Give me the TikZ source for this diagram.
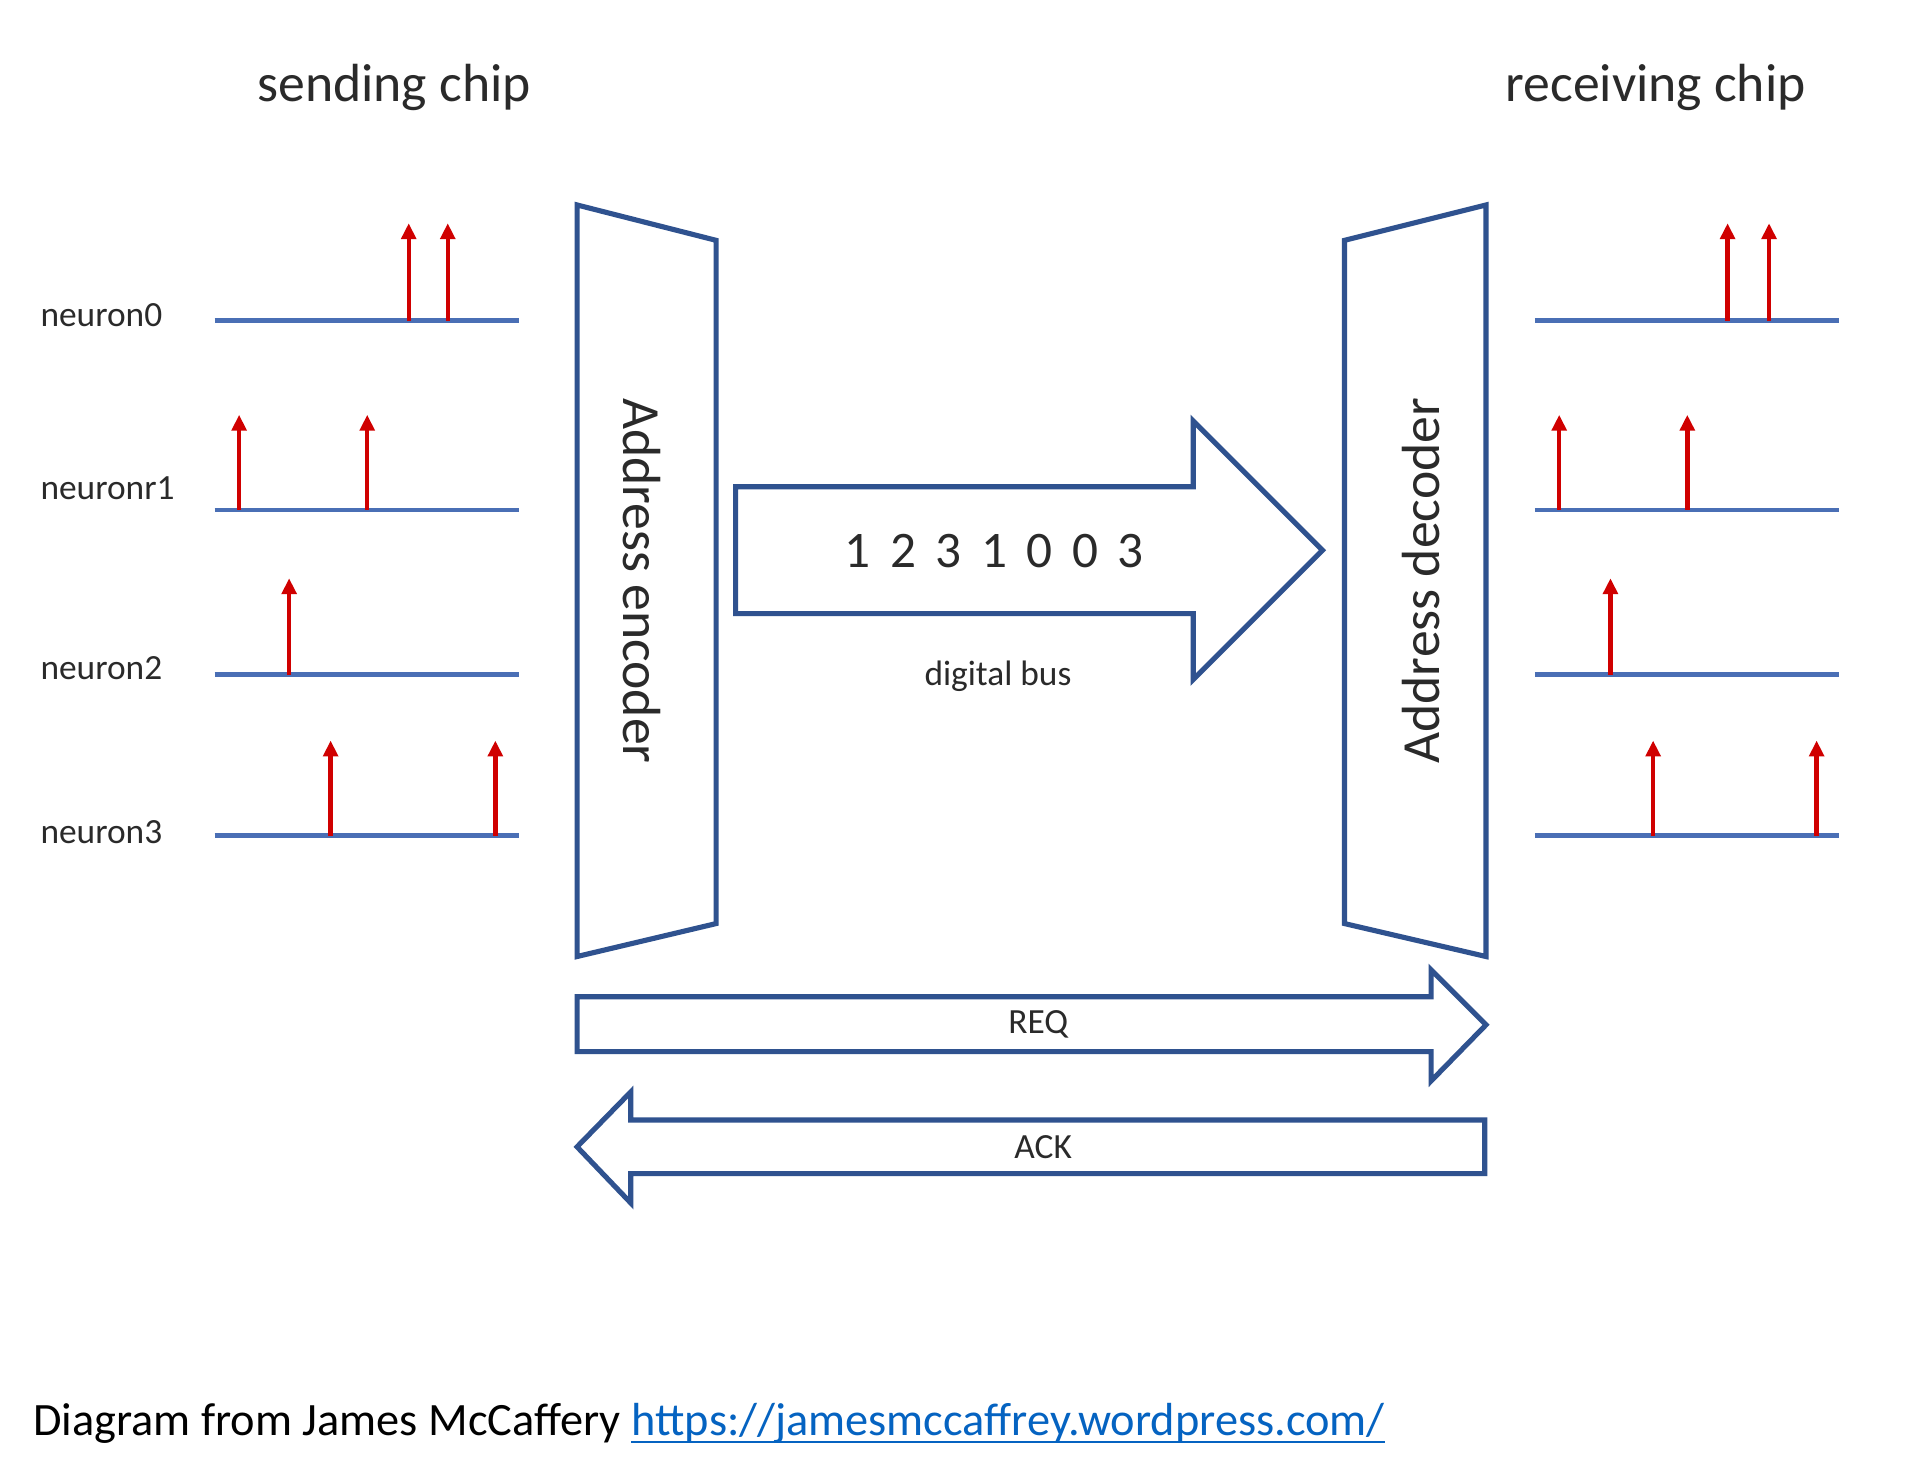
\documentclass[tikz,border=0pt]{standalone}
\usepackage{fontspec}
\setmainfont{Carlito}
\usetikzlibrary{arrows.meta}
\definecolor{outl}{HTML}{2F528F}
\definecolor{basel}{HTML}{4A6FB5}
\definecolor{spk}{HTML}{D00000}
\definecolor{txt}{HTML}{2A2A2A}
\definecolor{urlc}{HTML}{0563C1}
\newcommand{\fsz}[1]{\fontsize{#1}{#1}\selectfont}
\newcommand{\dg}[1]{\makebox[37.3pt][c]{#1}}
\tikzset{
  outlshape/.style={draw=outl, line width=4.2pt, line join=miter, fill=white},
  baseln/.style={draw=basel, line width=4pt},
  spike/.style={draw=spk, line width=3.6pt, -{Triangle[width=12pt,length=13pt]}},
  lab/.style={text=txt, inner sep=0pt, font=\fsz{29}},
  titletext/.style={text=txt, inner sep=0pt, font=\fsz{44}},
}
\begin{document}
\begin{tikzpicture}[x=1pt,y=-1pt]
\useasboundingbox (0,0) rectangle (1568,1210);
\fill[white] (0,0) rectangle (1568,1210);

% titles
\node[titletext] (send) at (323,72) {sending chip};
\node[titletext] (recv) at (1357,72) {receiving chip};

% neuron labels
\node[lab, anchor=west] (n0) at (33,258) {neuron0};
\node[lab, anchor=west] (n1) at (33,400) {neuronr1};
\node[lab, anchor=west] (n2) at (33,548) {neuron2};
\node[lab, anchor=west] (n3) at (33,682) {neuron3};

% left baselines
\coordinate (l0a) at (176,263); \coordinate (l0b) at (425,263);
\coordinate (l1a) at (176,418); \coordinate (l1b) at (425,418);
\coordinate (l2a) at (176,553); \coordinate (l2b) at (425,553);
\coordinate (l3a) at (176,685); \coordinate (l3b) at (425,685);
\draw[baseln] (l0a) -- (l0b);
\draw[baseln] (l1a) -- (l1b);
\draw[baseln] (l2a) -- (l2b);
\draw[baseln] (l3a) -- (l3b);

% right baselines
\coordinate (r0a) at (1258,263); \coordinate (r0b) at (1507,263);
\coordinate (r1a) at (1258,418); \coordinate (r1b) at (1507,418);
\coordinate (r2a) at (1258,553); \coordinate (r2b) at (1507,553);
\coordinate (r3a) at (1258,685); \coordinate (r3b) at (1507,685);
\draw[baseln] (r0a) -- (r0b);
\draw[baseln] (r1a) -- (r1b);
\draw[baseln] (r2a) -- (r2b);
\draw[baseln] (r3a) -- (r3b);

% left spikes
\foreach \x/\yb/\yt [count=\i] in {335/263/183, 367/263/183, 196/418/340, 301/418/340, 237/553/474, 271/685/607, 406/685/607}{
  \coordinate (ls\i a) at (\x,\yb); \coordinate (ls\i b) at (\x,\yt);
  \draw[spike] (ls\i a) -- (ls\i b);
}
% right spikes
\foreach \x/\yb/\yt [count=\i] in {1416/263/183, 1450/263/183, 1278/418/340, 1383/418/340, 1320/553/474, 1355/685/607, 1489/685/607}{
  \coordinate (rs\i a) at (\x,\yb); \coordinate (rs\i b) at (\x,\yt);
  \draw[spike] (rs\i a) -- (rs\i b);
}

% encoder / decoder
\draw[outlshape] (473,168) -- (587,197) -- (587,757) -- (473,784) -- cycle;
\draw[outlshape] (1102,197) -- (1218,168) -- (1218,784) -- (1102,757) -- cycle;
\node[text=txt, inner sep=0pt, font=\fsz{44}, rotate=-90] (enc) at (526,476) {Address encoder};
\node[text=txt, inner sep=0pt, font=\fsz{44}, rotate=90] (dec) at (1165,476) {Address decoder};

% digital bus arrow
\draw[outlshape] (603,399) -- (978,399) -- (978,345) -- (1084,451) -- (978,557) -- (978,503) -- (603,503) -- cycle;
\node[text=txt, inner sep=0pt, font=\fsz{42}] (bus) at (815,452) {\dg{1}\dg{2}\dg{3}\dg{1}\dg{0}\dg{0}\dg{3}};
\node[lab] (busl) at (818,554) {digital bus};

% REQ / ACK
\draw[outlshape] (473,817) -- (1173,817) -- (1173,795) -- (1218,840) -- (1173,886) -- (1173,862) -- (473,862) -- cycle;
\node[lab] (req) at (851,840) {REQ};
\draw[outlshape] (473,940) -- (517,895) -- (517,918) -- (1217,918) -- (1217,962) -- (517,962) -- (517,986) -- cycle;
\node[lab] (ack) at (855,940) {ACK};

% caption
\node[anchor=base west, inner sep=0pt, font=\fsz{38}, text=black] (cap) at (27,1177) {Diagram from James McCaffery};
\node[anchor=base west, inner sep=0pt, font=\fsz{38}, text=urlc, xshift=8.5pt] (url) at (cap.base east) {https://jamesmccaffrey.wordpress.com/};
\draw[urlc, line width=2.2pt] ([yshift=-5pt]url.base west) -- ([yshift=-5pt]url.base east);
\end{tikzpicture}
\end{document}
